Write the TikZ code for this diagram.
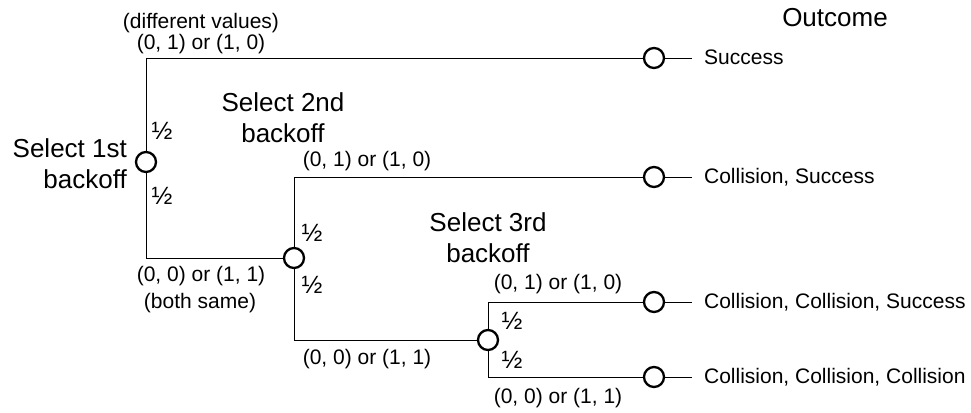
\documentclass[tikz,border=0pt]{standalone}
\usepackage{fontspec}
\setmainfont{Liberation Sans}
\usetikzlibrary{backgrounds}
\begin{document}
\begin{tikzpicture}[x=1pt,y=-1pt,
  line width=2.3pt,
  dot/.style={circle, draw, fill=white, minimum size=20pt, inner sep=0pt},
  lbl/.style={font=\fontsize{21}{24}\selectfont, inner sep=0pt, text height=0.73em, text depth=0.21em, yshift=-4pt},
  big/.style={font=\fontsize{26}{31}\selectfont, inner sep=0pt},
  half/.style={font=\fontsize{25}{25}\selectfont, inner sep=0pt}
]
\useasboundingbox (0,0) rectangle (971,412);

% decision nodes
\node[dot] (n1) at (146,162) {};
\node[dot] (n2) at (294,258) {};
\node[dot] (n3) at (488,340) {};
% leaf nodes
\node[dot] (f1) at (654,58) {};
\node[dot] (f2) at (654,177) {};
\node[dot] (f3) at (654,302) {};
\node[dot] (f4) at (654,377) {};
% free ends of the outcome tails
\coordinate (t1) at (692,58);
\coordinate (t2) at (692,177);
\coordinate (t3) at (692,302);
\coordinate (t4) at (692,377);

% branches (behind the circles)
\begin{scope}[on background layer]
\draw (n1.center) |- (f1.center);
\draw (n1.center) |- (n2.center);
\draw (n2.center) |- (f2.center);
\draw (n2.center) |- (n3.center);
\draw (n3.center) |- (f3.center);
\draw (n3.center) |- (f4.center);
\draw (f1.center) -- (t1);
\draw (f2.center) -- (t2);
\draw (f3.center) -- (t3);
\draw (f4.center) -- (t4);
\end{scope}

% stage labels
\node[big, align=right, anchor=east] (s1) at (128,164) {Select 1st\\backoff};
\node[big, align=center] (s2) at (283,118) {Select 2nd\\backoff};
\node[big, align=center] (s3) at (488,238) {Select 3rd\\backoff};
\node[big] (oc) at (835,18) {Outcome};

% branch labels
\node[lbl] (a1) at (201,22) {(different values)};
\node[lbl] (a2) at (201,43) {(0, 1) or (1, 0)};
\node[lbl] (a3) at (201,275) {(0, 0) or (1, 1)};
\node[lbl] (a4) at (200,302) {(both same)};
\node[lbl] (b1) at (367,160) {(0, 1) or (1, 0)};
\node[lbl] (b2) at (367,358) {(0, 0) or (1, 1)};
\node[lbl] (c1) at (558,283) {(0, 1) or (1, 0)};
\node[lbl] (c2) at (558,397) {(0, 0) or (1, 1)};

% probabilities
\node[half] (h1) at (162,131) {½};
\node[half] (h2) at (162,196) {½};
\node[half] (h3) at (312,233) {½};
\node[half] (h4) at (312,285) {½};
\node[half] (h5) at (512,321) {½};
\node[half] (h6) at (512,360) {½};

% outcomes
\node[lbl, anchor=west] (o1) at (703,58) {Success};
\node[lbl, anchor=west] (o2) at (703,177) {Collision, Success};
\node[lbl, anchor=west] (o3) at (703,302) {Collision, Collision, Success};
\node[lbl, anchor=west] (o4) at (703,377) {Collision, Collision, Collision};
\end{tikzpicture}
\end{document}
